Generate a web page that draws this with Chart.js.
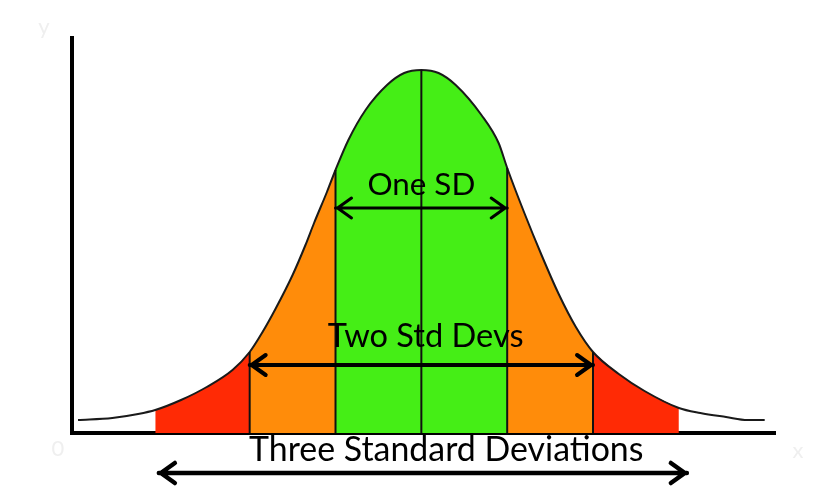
<!DOCTYPE html>
<html>
<head>
<meta charset="utf-8">
<script src="https://cdn.jsdelivr.net/npm/chart.js@4"></script>
<style>
body{margin:0;background:#fff}
.wrap{width:830px;height:487px;position:relative}
</style>
</head>
<body>
<div class="wrap"><canvas id="myChart"></canvas></div>
<script>
// curve: x in standard deviations, height above the axis
const zValues = [-4,-3.6,-3.3,-3.1,-2.8,-2.5,-2.2,-2,-1.85,-1.7,-1.5,-1.35,-1.25,-1.1,-1,-0.85,-0.65,-0.4,-0.2,0,0.2,0.4,0.7,0.9,1,1.2,1.4,1.6,1.8,2,2.3,2.6,3,3.25,3.55,3.8,4];
const heights = [13,15,19,23,33,46,63,81,101,124,158,188,210,241,263,293,323,348,360,363,360,348,318,290,265,220,178,139,106,81,59,42,25,20,16,13,13];

// the left red band starts a little beyond -3 in the picture
const bandEdges = [-3.1,-2,-1,1,2,3];
const sdMarks = [-2,-1,0,1,2];
const labels = ['One SD','Two Std Devs','Three Standard Deviations'];
const spans = [1,2,3];

const bandColors = ['#ff2a05','#ff8c0a','#45ee16','#ff8c0a','#ff2a05'];

const ctx = document.getElementById('myChart');

let points = zValues.map((z,i)=>({x:z, y:heights[i]}));
function heightAt(z){
  let p = points.find(p=>p.x===z);
  return p ? p.y : 0;
}

let datasets = [];
for(let i=0;i<bandEdges.length-1;i++){
  datasets.push({
    data: points.filter(p=>p.x>=bandEdges[i] && p.x<=bandEdges[i+1]),
    backgroundColor: bandColors[i],
    borderWidth: 0,
    fill: 'origin',
    order: 3
  });
}
datasets.push({
  data: points,
  borderColor: '#1a1a1a',
  borderWidth: 2,
  fill: false,
  order: 2
});
sdMarks.forEach(z=>{
  datasets.push({
    data: [{x:z,y:0},{x:z,y:heightAt(z)}],
    borderColor: '#111',
    borderWidth: 2,
    fill: false,
    tension: 0,
    order: 1
  });
});

function arrow(c, x1, x2, y, lw){
  c.save();
  c.strokeStyle = '#000';
  c.lineWidth = lw;
  c.lineCap = 'round';
  c.lineJoin = 'round';
  c.beginPath();
  c.moveTo(x1,y); c.lineTo(x2,y);
  c.moveTo(x1+16,y-10); c.lineTo(x1+2,y); c.lineTo(x1+16,y+10);
  c.moveTo(x2-16,y-10); c.lineTo(x2-2,y); c.lineTo(x2-16,y+10);
  c.stroke();
  c.restore();
}

function fitText(c, text, x, y, width){
  c.font = '30px Lato';
  let size = 30*width/c.measureText(text).width;
  c.font = size.toFixed(1)+'px Lato';
  c.fillText(text, x, y);
}

const annotations = {
  id: 'annotations',
  afterDatasetsDraw(chart){
    const c = chart.ctx;
    const xs = chart.scales.x, ys = chart.scales.y;
    // arrow heights and label baselines, in axis units
    const arrowY = [225, 68, -40];
    const textY = [238, 86, -28];
    const textX = [0, 0.05, 0.29];
    const widths = [108, 196, 395];
    const lw = [3, 4, 4.5];
    c.save();
    c.fillStyle = '#000';
    c.textAlign = 'center';
    c.textBaseline = 'alphabetic';
    spans.forEach((s,i)=>{
      let x1 = xs.getPixelForValue(-s), x2 = xs.getPixelForValue(s);
      if(s===3){ x1 -= 5; x2 += 8; }
      arrow(c, x1, x2, ys.getPixelForValue(arrowY[i]), lw[i]);
      fitText(c, labels[i], xs.getPixelForValue(textX[i]), ys.getPixelForValue(textY[i]), widths[i]);
    });
    // faint axis letters
    c.fillStyle = '#efefef';
    c.font = '22px Lato';
    c.fillText('y', 44, 34);
    c.fillText('0', 58, 456);
    c.fillText('x', 798, 458);
    c.restore();
  }
};

new Chart(ctx, {
  type: 'line',
  data: { datasets: datasets },
  options: {
    responsive: true,
    maintainAspectRatio: false,
    animation: false,
    layout: { padding: { left: 64, right: 55, top: 38, bottom: 46 } },
    elements: {
      point: { radius: 0 },
      line: { cubicInterpolationMode: 'monotone' }
    },
    plugins: { legend: { display: false }, tooltip: { enabled: false } },
    scales: {
      x: {
        type: 'linear', min: -4.07, max: 4.12,
        grid: { display: false },
        ticks: { display: false },
        border: { display: true, color: '#000', width: 4 }
      },
      y: {
        min: 0, max: 395,
        grid: { display: false },
        ticks: { display: false },
        border: { display: true, color: '#000', width: 4 }
      }
    }
  },
  plugins: [annotations]
});
</script>
</body>
</html>
